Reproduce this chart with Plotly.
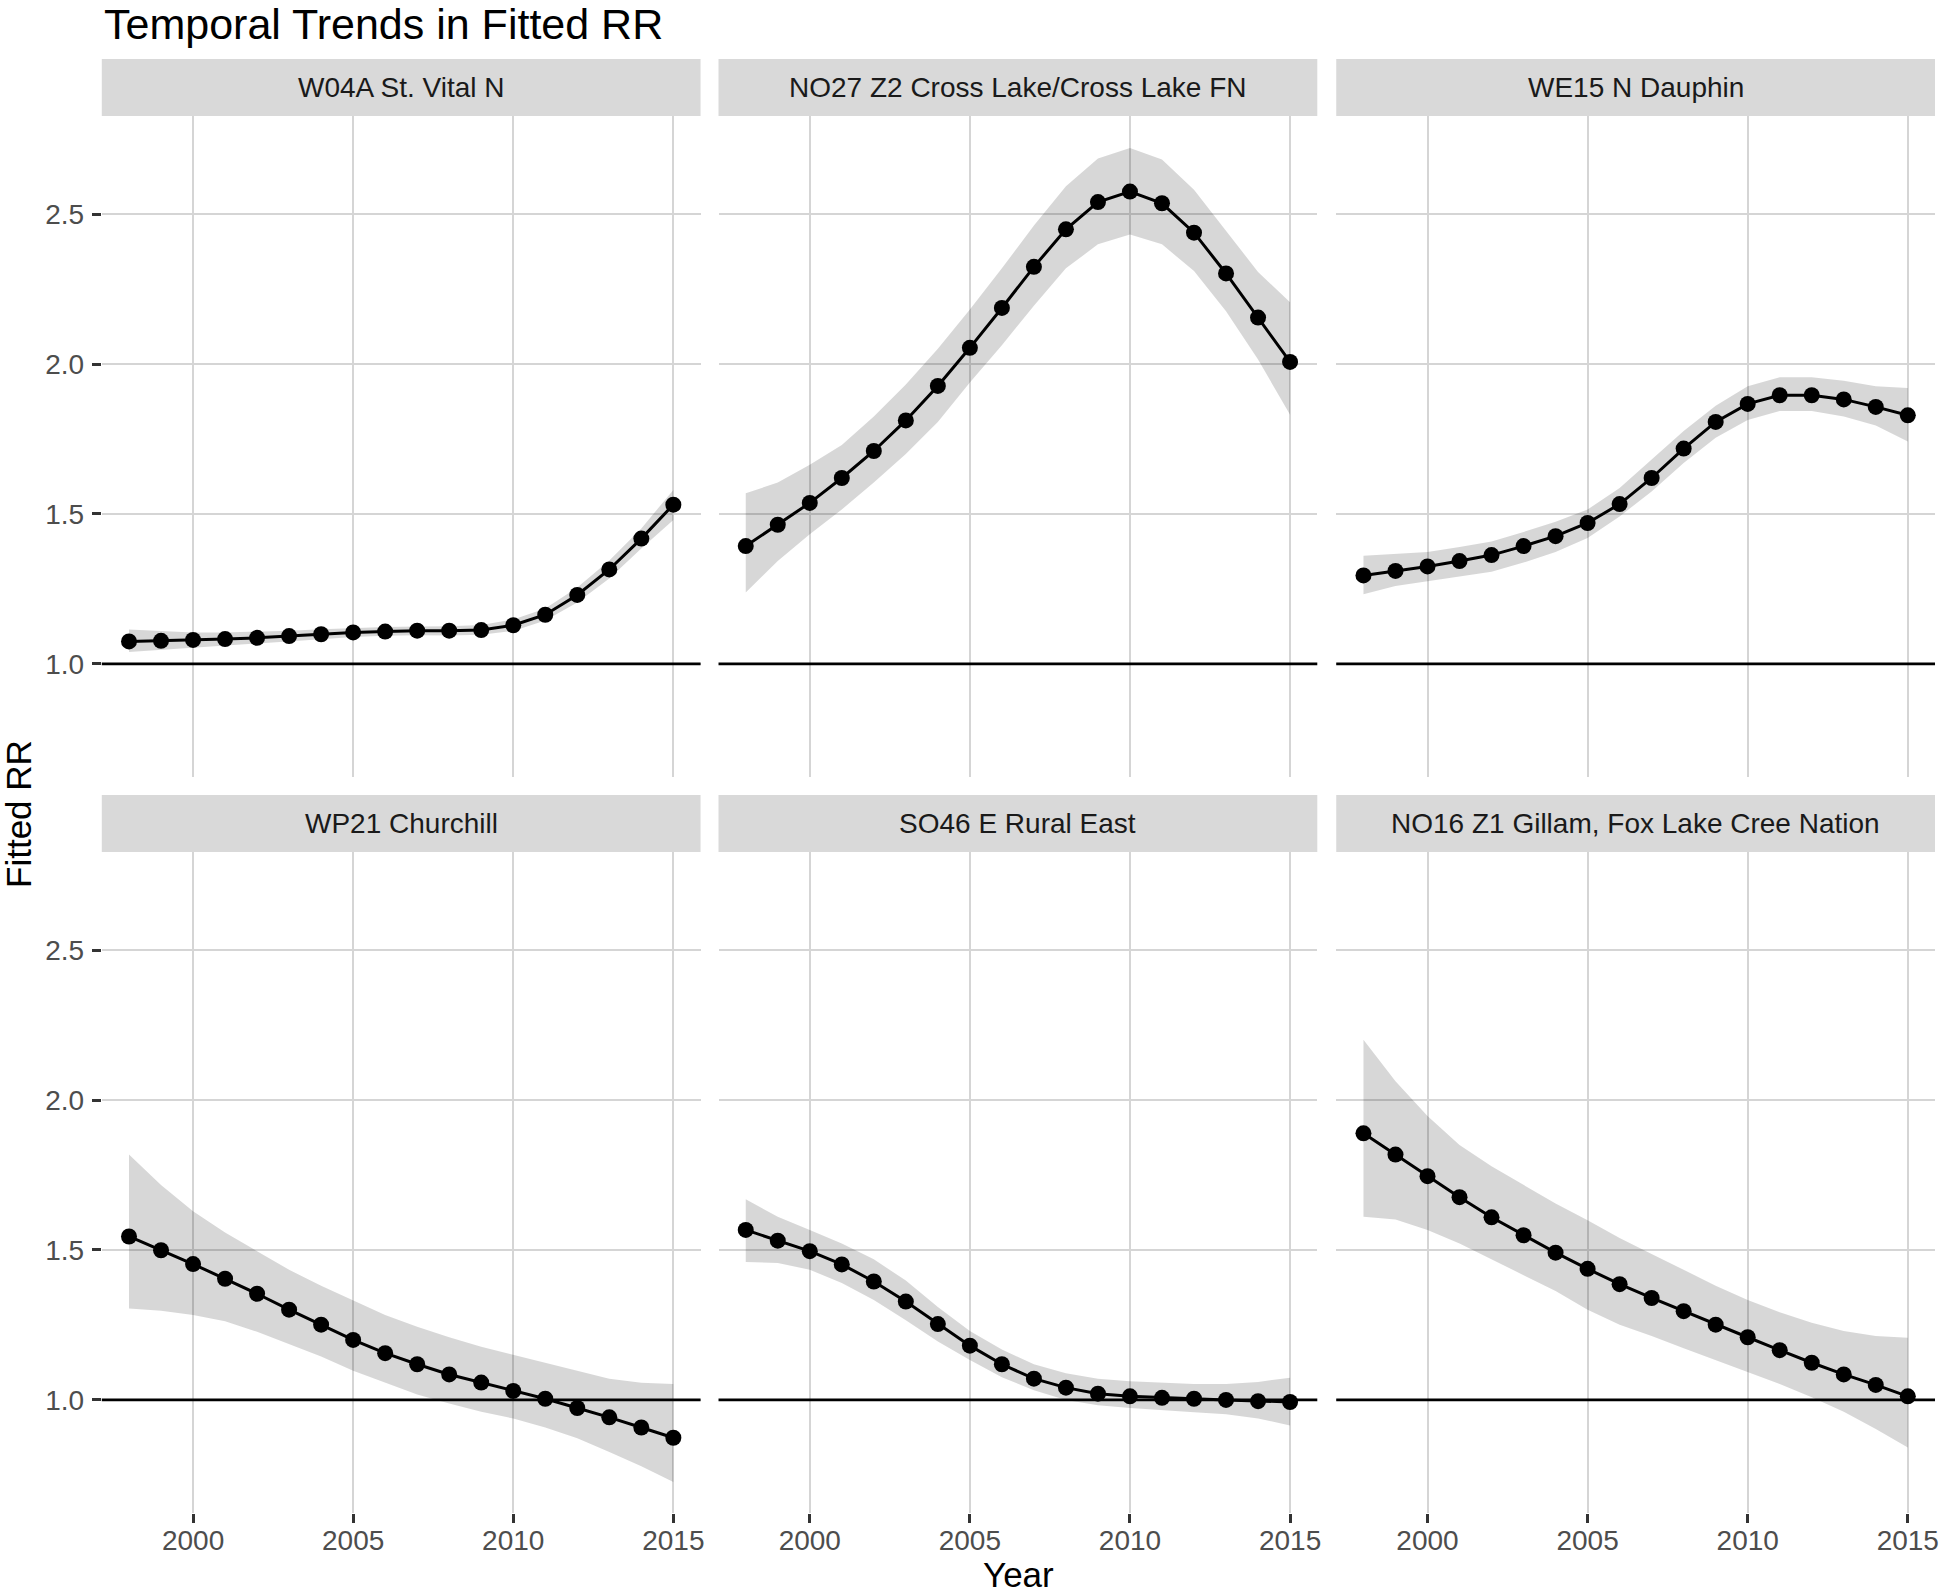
import plotly.graph_objects as go

# ---------------- data ----------------
YEARS = list(range(1998, 2016))

PANEL_TITLES = [
    "W04A St. Vital N",
    "NO27 Z2 Cross Lake/Cross Lake FN",
    "WE15 N Dauphin",
    "WP21 Churchill",
    "SO46 E Rural East",
    "NO16 Z1 Gillam, Fox Lake Cree Nation",
]

st_vital_fit = [1.075, 1.077, 1.080, 1.083, 1.087, 1.093, 1.099, 1.105, 1.108,
                1.111, 1.111, 1.113, 1.129, 1.164, 1.230, 1.315, 1.418, 1.531]
st_vital_lo = [1.040, 1.048, 1.055, 1.062, 1.068, 1.075, 1.082, 1.090, 1.094,
               1.096, 1.095, 1.097, 1.110, 1.145, 1.205, 1.285, 1.385, 1.480]
st_vital_hi = [1.115, 1.110, 1.105, 1.105, 1.107, 1.111, 1.116, 1.120, 1.123,
               1.125, 1.126, 1.130, 1.148, 1.185, 1.255, 1.345, 1.452, 1.580]

cross_lake_fit = [1.393, 1.464, 1.537, 1.620, 1.710, 1.812, 1.927, 2.054, 2.187,
                  2.324, 2.449, 2.540, 2.575, 2.536, 2.438, 2.302, 2.155, 2.007]
cross_lake_lo = [1.238, 1.343, 1.432, 1.515, 1.605, 1.700, 1.807, 1.938, 2.063,
                 2.194, 2.319, 2.399, 2.432, 2.399, 2.310, 2.176, 2.015, 1.831]
cross_lake_hi = [1.569, 1.605, 1.664, 1.730, 1.825, 1.932, 2.051, 2.182, 2.319,
                 2.462, 2.593, 2.685, 2.720, 2.682, 2.581, 2.444, 2.307, 2.206]

dauphin_fit = [1.295, 1.310, 1.325, 1.343, 1.363, 1.393, 1.426, 1.470, 1.533,
               1.620, 1.718, 1.807, 1.867, 1.896, 1.896, 1.882, 1.857, 1.829]
dauphin_lo = [1.232, 1.260, 1.277, 1.292, 1.307, 1.338, 1.373, 1.420, 1.492,
              1.575, 1.670, 1.754, 1.813, 1.843, 1.843, 1.825, 1.795, 1.742]
dauphin_hi = [1.361, 1.367, 1.373, 1.390, 1.408, 1.440, 1.474, 1.515, 1.587,
              1.682, 1.777, 1.861, 1.926, 1.956, 1.956, 1.944, 1.926, 1.920]

churchill_fit = [1.545, 1.499, 1.453, 1.404, 1.354, 1.301, 1.251, 1.200, 1.156,
                 1.119, 1.085, 1.058, 1.030, 1.004, 0.973, 0.942, 0.908, 0.874]
churchill_lo = [1.305, 1.297, 1.283, 1.262, 1.227, 1.186, 1.145, 1.097, 1.057,
                1.018, 0.988, 0.961, 0.938, 0.908, 0.872, 0.826, 0.779, 0.726]
churchill_hi = [1.818, 1.717, 1.629, 1.558, 1.496, 1.434, 1.381, 1.333, 1.283,
                1.244, 1.209, 1.177, 1.151, 1.124, 1.097, 1.071, 1.057, 1.053]

rural_east_fit = [1.567, 1.531, 1.496, 1.452, 1.395, 1.328, 1.253, 1.181, 1.119,
                  1.071, 1.041, 1.021, 1.012, 1.007, 1.004, 1.000, 0.996, 0.993]
rural_east_lo = [1.460, 1.457, 1.434, 1.390, 1.333, 1.266, 1.195, 1.133, 1.076,
                 1.032, 1.000, 0.982, 0.973, 0.965, 0.959, 0.952, 0.938, 0.915]
rural_east_hi = [1.669, 1.611, 1.567, 1.522, 1.469, 1.398, 1.310, 1.230, 1.168,
                 1.119, 1.089, 1.071, 1.062, 1.057, 1.053, 1.053, 1.060, 1.074]

gillam_fit = [1.889, 1.818, 1.746, 1.676, 1.609, 1.549, 1.491, 1.437, 1.386,
              1.340, 1.296, 1.251, 1.209, 1.166, 1.124, 1.085, 1.050, 1.012]
gillam_lo = [1.611, 1.602, 1.567, 1.522, 1.469, 1.416, 1.363, 1.301, 1.251,
             1.213, 1.172, 1.133, 1.092, 1.053, 1.009, 0.961, 0.903, 0.841]
gillam_hi = [2.201, 2.063, 1.947, 1.850, 1.779, 1.717, 1.655, 1.599, 1.540,
             1.487, 1.434, 1.381, 1.333, 1.292, 1.257, 1.230, 1.213, 1.207]

FITS = [st_vital_fit, cross_lake_fit, dauphin_fit, churchill_fit, rural_east_fit, gillam_fit]
LOWS = [st_vital_lo, cross_lake_lo, dauphin_lo, churchill_lo, rural_east_lo, gillam_lo]
HIGHS = [st_vital_hi, cross_lake_hi, dauphin_hi, churchill_hi, rural_east_hi, gillam_hi]

X_TICKS = [2000, 2005, 2010, 2015]
Y_TICKS = [1.0, 1.5, 2.0, 2.5]
Y_TICK_TEXT = ["1.0", "1.5", "2.0", "2.5"]
REF_LINE = 1.0
X_RANGE = [1997.15, 2015.85]
Y_RANGE = [0.623, 2.827]

TITLE = "Temporal Trends in Fitted RR"
X_TITLE = "Year"
Y_TITLE = "Fitted RR"

# ---------------- layout geometry (pixels) ----------------
W, H = 1944, 1594
COL_X = [(102, 702), (720, 1320), (1339, 1939)]
ROW_Y = [(116, 777), (852, 1513)]          # panel top/bottom
STRIP_Y = [(59, 116), (795, 852)]          # strip top/bottom

FONT = "Liberation Sans, Arial, Helvetica, sans-serif"
GRID = "#D5D5D5"
RIBBON = "rgba(0,0,0,0.155)"


def px_x(p):
    return p / W


def px_y(p):
    return 1 - p / H


fig = go.Figure()
layout = dict(
    width=W, height=H,
    margin=dict(l=0, r=0, t=0, b=0),
    paper_bgcolor="white", plot_bgcolor="white",
    showlegend=False,
    font=dict(family=FONT, color="#000000"),
)
shapes = []
annotations = []

for i in range(6):
    r, c = divmod(i, 3)
    xname = "x" if i == 0 else f"x{i+1}"
    yname = "y" if i == 0 else f"y{i+1}"
    xkey = "xaxis" if i == 0 else f"xaxis{i+1}"
    ykey = "yaxis" if i == 0 else f"yaxis{i+1}"

    x0, x1 = COL_X[c]
    yt, yb = ROW_Y[r]
    layout[xkey] = dict(
        domain=[px_x(x0), px_x(x1)], anchor=yname, range=X_RANGE,
        tickvals=X_TICKS, showgrid=True, gridcolor=GRID, gridwidth=2,
        zeroline=False, showline=False,
        showticklabels=(r == 1), ticks="outside" if r == 1 else "",
        ticklen=9, tickwidth=2.5, tickcolor="#333333",
        tickfont=dict(size=28, color="#4D4D4D", family=FONT),
        ticklabelstandoff=-7,
    )
    layout[ykey] = dict(
        domain=[px_y(yb), px_y(yt)], anchor=xname, range=Y_RANGE,
        tickvals=Y_TICKS, ticktext=Y_TICK_TEXT, showgrid=True, gridcolor=GRID,
        gridwidth=2, zeroline=False, showline=False,
        showticklabels=(c == 0), ticks="outside" if c == 0 else "",
        ticklen=9, tickwidth=2.5, tickcolor="#333333",
        tickfont=dict(size=28, color="#4D4D4D", family=FONT),
        ticklabelstandoff=2,
    )

    # ribbon
    fig.add_trace(go.Scatter(
        x=YEARS + YEARS[::-1], y=HIGHS[i] + LOWS[i][::-1],
        fill="toself", fillcolor=RIBBON, line=dict(width=0),
        mode="lines", hoverinfo="skip", xaxis=xname, yaxis=yname,
    ))
    # line + points
    fig.add_trace(go.Scatter(
        x=YEARS, y=FITS[i], mode="lines+markers",
        line=dict(color="black", width=3),
        marker=dict(color="black", size=16),
        xaxis=xname, yaxis=yname,
    ))

    # reference line
    shapes.append(dict(
        type="line", xref=f"{xname} domain", yref=yname,
        x0=0, x1=1, y0=REF_LINE, y1=REF_LINE,
        line=dict(color="black", width=2.8), layer="above",
    ))

    # strip
    st, sb = STRIP_Y[r]
    shapes.append(dict(
        type="rect", xref="paper", yref="paper",
        x0=px_x(x0), x1=px_x(x1), y0=px_y(sb), y1=px_y(st),
        fillcolor="#D9D9D9", line=dict(width=0), layer="below",
    ))
    annotations.append(dict(
        text=PANEL_TITLES[i], xref="paper", yref="paper",
        x=px_x((x0 + x1) / 2), y=px_y((st + sb) / 2),
        xanchor="center", yanchor="middle", showarrow=False,
        font=dict(size=28, color="#1A1A1A", family=FONT),
    ))

# titles
annotations.append(dict(
    text=TITLE, xref="paper", yref="paper", x=px_x(102), y=px_y(24),
    xanchor="left", yanchor="middle", showarrow=False,
    font=dict(size=43, color="black", family=FONT),
))
annotations.append(dict(
    text=X_TITLE, xref="paper", yref="paper", x=px_x(1021), y=px_y(1574),
    xanchor="center", yanchor="middle", showarrow=False,
    font=dict(size=35, color="black", family=FONT),
))
annotations.append(dict(
    text=Y_TITLE, xref="paper", yref="paper", x=px_x(19), y=px_y(814),
    xanchor="center", yanchor="middle", showarrow=False, textangle=-90,
    font=dict(size=35, color="black", family=FONT),
))

layout["shapes"] = shapes
layout["annotations"] = annotations
fig.update_layout(**layout)

fig.write_html("out.html", config={"displayModeBar": False})

# remove default page margin so the figure sits at the window's top-left corner
with open("out.html", "r", encoding="utf-8") as f:
    html = f.read()
html = html.replace("<head>", "<head><style>html,body{margin:0;padding:0;}</style>", 1)
with open("out.html", "w", encoding="utf-8") as f:
    f.write(html)
